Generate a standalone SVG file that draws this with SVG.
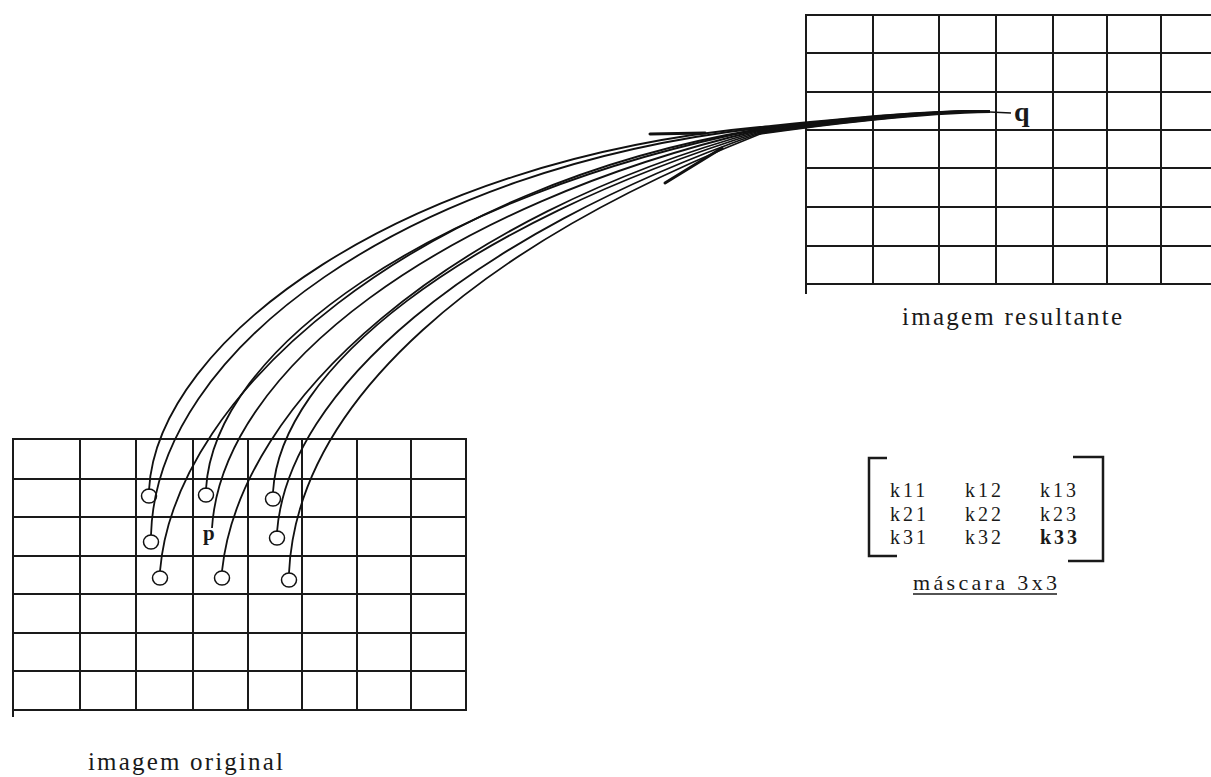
<svg xmlns="http://www.w3.org/2000/svg" width="1211" height="777" viewBox="0 0 1211 777">
<style>
.g{stroke:#1a1a1a;stroke-width:2;fill:none;stroke-linecap:square}
.c{stroke:#111;stroke-width:1.8;fill:none}
.o{stroke:#111;stroke-width:1.5;fill:none}
.t{font-family:"Liberation Serif","Times New Roman",serif;fill:#1a1a1a}
.lab{font-size:25px}
.k{font-size:20px;letter-spacing:3px}
.b{stroke:#1a1a1a;stroke-width:2.5;fill:none}
.s{stroke:#111;stroke-width:3;stroke-linecap:round;fill:none}
</style>
<rect width="1211" height="777" fill="#fff"/>
<g id="imagem-original">
  <path class="g" d="M13,439H466M13,479H466M13,517H466M13,556H466M13,594H466M13,633H466M13,671H466M13,710H466"/>
  <path class="g" d="M13,439V716M80,439V710M136,439V710M193,439V710M248,439V710M302,439V710M357,439V710M411,439V710M466,439V710"/>
  <ellipse class="o" cx="149" cy="496" rx="7.5" ry="7"/>
  <ellipse class="o" cx="206" cy="495" rx="7.5" ry="7"/>
  <ellipse class="o" cx="273" cy="499" rx="7.5" ry="7"/>
  <ellipse class="o" cx="151" cy="542" rx="7.5" ry="7"/>
  <ellipse class="o" cx="277" cy="538" rx="7.5" ry="7"/>
  <ellipse class="o" cx="160" cy="578" rx="7.5" ry="7"/>
  <ellipse class="o" cx="222" cy="578" rx="7.5" ry="7"/>
  <ellipse class="o" cx="289" cy="580" rx="7.5" ry="7"/>
  <text class="t" x="203" y="540" font-size="21" font-weight="bold">p</text>
  <text class="t lab" x="88" y="770" textLength="195" lengthAdjust="spacing">imagem original</text>
</g>
<g id="imagem-resultante">
  <path class="g" d="M806,15H1211M806,53H1211M806,92H1211M806,130H1211M806,168H1211M806,207H1211M806,246H1211M806,284H1211"/>
  <path class="g" d="M806,15V293M873,15V284M939,15V284M996,15V284M1053,15V284M1107,15V284M1161,15V284"/>
  <text class="t" x="1014" y="121" font-size="28" font-weight="bold">q</text>
  <text class="t lab" x="902" y="325" textLength="220" lengthAdjust="spacing">imagem resultante</text>
</g>
<g id="mascara">
  <path class="b" d="M887,458H869V556H897"/>
  <path class="b" d="M1073,457H1103V561H1068"/>
  <text class="t k" x="890" y="497">k11</text>
  <text class="t k" x="965" y="497">k12</text>
  <text class="t k" x="1040" y="497">k13</text>
  <text class="t k" x="890" y="521">k21</text>
  <text class="t k" x="965" y="521">k22</text>
  <text class="t k" x="1040" y="521">k23</text>
  <text class="t k" x="890" y="544">k31</text>
  <text class="t k" x="965" y="544">k32</text>
  <text class="t k" x="1040" y="544" font-weight="bold">k33</text>
  <text class="t" x="913" y="590" font-size="22" textLength="144" lengthAdjust="spacing">máscara 3x3</text>
  <line x1="913" y1="594" x2="1057" y2="594" stroke="#1a1a1a" stroke-width="1.5"/>
</g>
<g id="connectors">
  <path class="c" d="M149,490C157,340 400,160 760,127C820,121 920,110 990,111"/>
  <path class="c" d="M151,535C156,350 405,168 760,128C820,122 920,110 990,111"/>
  <path class="c" d="M160,571C175,390 420,185 760,129C820,122 920,111 990,111"/>
  <path class="c" d="M206,489C214,350 430,195 760,129C820,123 920,111 990,111"/>
  <path class="c" d="M212,528C222,370 440,205 760,130C820,123 920,111 990,111"/>
  <path class="c" d="M222,571C240,400 450,215 760,131C820,124 920,112 990,111"/>
  <path class="c" d="M273,492C280,370 460,225 760,132C820,124 920,112 990,111"/>
  <path class="c" d="M277,532C288,390 470,235 760,133C820,125 920,112 990,111"/>
  <path class="c" d="M289,573C297,400 480,245 760,134C820,125 920,113 990,112"/>
  <path class="s" d="M650,134L705,133"/>
  <path class="s" d="M665,183L722,148"/>
  <path d="M990,112L1011,113" stroke="#111" stroke-width="1.5"/>
</g>
</svg>
